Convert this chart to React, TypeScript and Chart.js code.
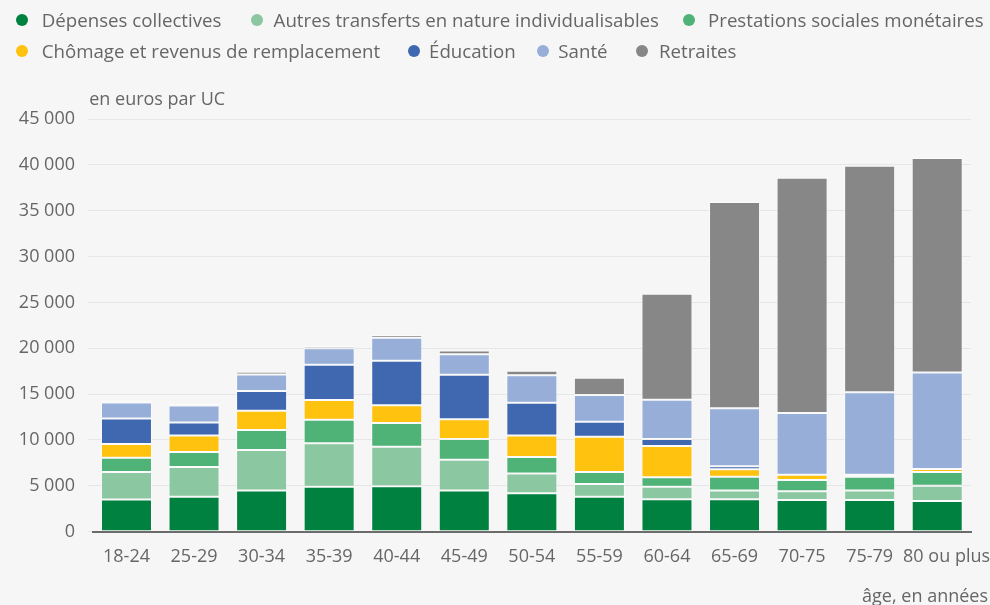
import React, { useEffect, useRef } from 'react';
import { Chart, registerables } from 'chart.js';

Chart.register(...registerables);

// ---- Data ----
const categories = ['18-24', '25-29', '30-34', '35-39', '40-44', '45-49', '50-54', '55-59', '60-64', '65-69', '70-75', '75-79', '80 ou plus'];

const seriesNames = [
  'Dépenses collectives',
  'Autres transferts en nature individualisables',
  'Prestations sociales monétaires',
  'Chômage et revenus de remplacement',
  'Éducation',
  'Santé',
  'Retraites',
];

const seriesColors = ['#008140', '#8bc7a0', '#4fb377', '#ffc20e', '#3f68b0', '#96aed8', '#878787'];

const depensesCollectives = [3500, 3800, 4500, 4900, 4950, 4500, 4200, 3800, 3550, 3550, 3450, 3450, 3350];
const autresTransferts = [3000, 3250, 4400, 4750, 4300, 3350, 2150, 1400, 1350, 950, 950, 1050, 1650];
const prestationsSociales = [1550, 1650, 2200, 2550, 2600, 2250, 1800, 1300, 1050, 1500, 1250, 1500, 1500];
const chomage = [1500, 1800, 2100, 2150, 1950, 2150, 2350, 3850, 3400, 800, 550, 200, 350];
const education = [2800, 1400, 2150, 3850, 4850, 4850, 3550, 1650, 750, 350, 0, 0, 0];
const sante = [1750, 1850, 1800, 1800, 2500, 2250, 3000, 2900, 4300, 6300, 6750, 9000, 10500];
const retraites = [200, 200, 300, 250, 300, 400, 500, 1900, 11550, 22500, 25650, 24700, 23400];

const yMax = 45000;
const yStep = 5000;
const yCaption = 'en euros par UC';
const xCaption = 'âge, en années';

// legend layout (row, marker centre x, text start x)
const legendRow = [0, 0, 0, 1, 1, 1, 1];
const legendMarkerX = [22.3, 256.7, 689, 22.3, 414.3, 543.3, 641.7];
const legendTextX = [41.7, 273.6, 708, 41.7, 429, 558.3, 659];

const FONT = "'Open Sans', sans-serif";
const TEXT = '#666666';

const fmt = (v: number) => {
  const s = String(Math.round(v));
  return s.replace(/\B(?=(\d{3})+(?!\d))/g, ' ');
};

const captionPlugin = {
  id: 'captions',
  afterDraw(chart: any) {
    const { ctx, chartArea } = chart;
    ctx.save();
    ctx.font = `18px ${FONT}`;
    ctx.fillStyle = TEXT;
    ctx.textBaseline = 'middle';
    ctx.textAlign = 'left';
    ctx.fillText(yCaption, chartArea.left - 3.5, chartArea.top - 19);
    ctx.textAlign = 'right';
    ctx.fillText(xCaption, chartArea.right + 17, chartArea.bottom + 65);
    ctx.restore();
  },
};

export default function App() {
  const ref = useRef<HTMLCanvasElement>(null);

  useEffect(() => {
    document.body.style.margin = '0';
    Chart.defaults.font.family = FONT;
    const series = [depensesCollectives, autresTransferts, prestationsSociales, chomage, education, sante, retraites];
    const lastIdx = categories.length - 1;
    const chart = new Chart(ref.current as HTMLCanvasElement, {
      type: 'bar',
      data: {
        labels: categories,
        datasets: series.map((d, i) => ({
          label: seriesNames[i],
          data: d,
          backgroundColor: seriesColors[i],
          borderColor: 'rgba(255,255,255,0.5)',
          borderWidth: 1,
          borderSkipped: false,
          barPercentage: 0.755,
          categoryPercentage: 1,
        })),
      },
      options: {
        animation: false,
        responsive: false,
        maintainAspectRatio: false,
        layout: { padding: { top: 119, right: 19, bottom: 37.7, left: 0 } },
        plugins: {
          legend: { display: false },
          tooltip: { enabled: false },
          title: { display: false },
        },
        scales: {
          x: {
            stacked: true,
            grid: { display: false, drawTicks: false },
            border: { display: true, color: '#6b6b6b', width: 2 },
            afterFit: (s: any) => {
              s.height = 35.6;
              s.paddingLeft = 0;
              s.paddingRight = 0;
            },
            ticks: {
              color: TEXT,
              font: { size: 18, family: FONT },
              padding: 14,
              maxRotation: 0,
              autoSkip: false,
              callback: function (this: any, v: any, idx: number) {
                const lab = this.getLabelForValue(Number(v));
                // the last label is nudged right, as in the original, to avoid overlap
                return idx === lastIdx ? '    ' + lab : lab;
              },
            },
          },
          y: {
            stacked: true,
            min: 0,
            max: yMax,
            afterFit: (s: any) => {
              s.width = 92.7;
            },
            ticks: {
              stepSize: yStep,
              color: TEXT,
              font: { size: 18, family: FONT },
              padding: 12.7,
              callback: (v: any) => fmt(Number(v)),
            },
            grid: { color: '#e6e6e6', lineWidth: 1, drawTicks: true, tickLength: 5, tickColor: '#e6e6e6' },
            border: { display: false },
          },
        },
      },
      plugins: [captionPlugin],
    });
    return () => chart.destroy();
  }, []);

  return (
    <div style={{ position: 'relative', width: 990, height: 605, background: '#f6f6f6', overflow: 'hidden' }}>
      <canvas ref={ref} width={990} height={605} style={{ position: 'absolute', left: 0, top: 0, width: 990, height: 605, display: 'block' }} />
      <div style={{ position: 'absolute', left: 0, top: 0, width: 990, height: 70, fontFamily: FONT, fontSize: 18.7, color: TEXT }}>
        {seriesNames.map((name, i) => {
          const cy = legendRow[i] === 0 ? 20 : 50.7;
          return (
            <React.Fragment key={i}>
              <span
                style={{
                  position: 'absolute',
                  left: legendMarkerX[i] - 6,
                  top: cy - 6,
                  width: 12,
                  height: 12,
                  borderRadius: '50%',
                  background: seriesColors[i],
                }}
              />
              <span
                style={{
                  position: 'absolute',
                  left: legendTextX[i],
                  top: cy - 15,
                  height: 30,
                  lineHeight: '30px',
                  whiteSpace: 'nowrap',
                }}
              >
                {name}
              </span>
            </React.Fragment>
          );
        })}
      </div>
    </div>
  );
}
